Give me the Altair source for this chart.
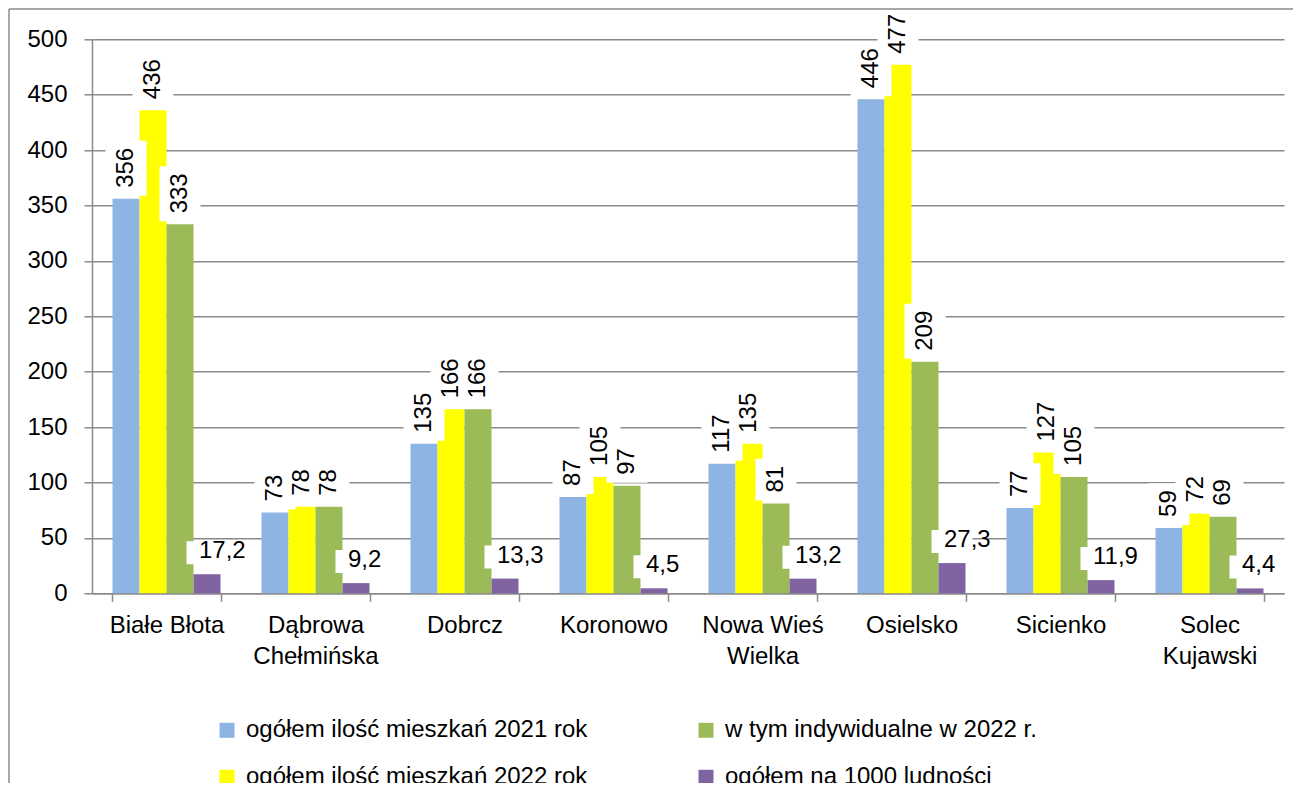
import altair as alt
import pandas as pd

categories = ["Białe Błota", "Dąbrowa Chełmińska", "Dobrcz", "Koronowo",
              "Nowa Wieś Wielka", "Osielsko", "Sicienko", "Solec Kujawski"]
series = ["ogółem ilość mieszkań 2021 rok", "ogółem ilość mieszkań 2022 rok",
          "w tym indywidualne w 2022 r.", "ogółem na 1000 ludności"]
v2021 = [356, 73, 135, 87, 117, 446, 77, 59]
v2022 = [436, 78, 166, 105, 135, 477, 127, 72]
v_indyw = [333, 78, 166, 97, 81, 209, 105, 69]
v_1000 = [17.2, 9.2, 13.3, 4.5, 13.2, 27.3, 11.9, 4.4]
colors = ["#8EB4E3", "#FFFF00", "#9BBB59", "#8064A2"]
y_ticks = [0, 50, 100, 150, 200, 250, 300, 350, 400, 450, 500]

FONT = "Liberation Sans"
FS = 24
GRID = "#8a8a8a"
W, H = 1192, 554
PX = H / 500.0
GAP = 11
PAD = 7

rows = []
for si, (s, vals) in enumerate(zip(series, [v2021, v2022, v_indyw, v_1000])):
    for c, v in zip(categories, vals):
        if si < 3:
            lab = str(int(v))
            lo = v + (3 + PAD) / PX
            hi = v + (GAP + 13.35 * len(lab) + 7 - PAD) / PX
        else:
            lab = f"{v:.1f}".replace(".", ",")
            lo = v + (10 + PAD) / PX
            hi = v + (33 - PAD) / PX
        rows.append({"cat": c, "series": s, "value": float(v), "label": lab,
                     "lo": float(lo), "hi": float(hi), "kind": "rot" if si < 3 else "flat"})
df = pd.DataFrame(rows)
df_rot = df[df["kind"] == "rot"].reset_index(drop=True)
df_flat = df[df["kind"] == "flat"].reset_index(drop=True)

label_expr = ("!isString(datum.label) || datum.label == 'Białe Błota' || indexof(datum.label, ' ') < 0 "
              "? datum.label : [slice(datum.label, 0, lastindexof(datum.label, ' ')), "
              "slice(datum.label, lastindexof(datum.label, ' ') + 1)]")

x_scale = alt.Scale(domain=categories, paddingInner=0.275, paddingOuter=0.1375)
x_enc = alt.X("cat:N", scale=x_scale,
              axis=alt.Axis(title=None, labelAngle=0, labelFont=FONT, labelFontSize=FS,
                            labelColor="black", tickBand="extent", tickSize=8,
                            tickColor=GRID, tickWidth=1.5, domainColor=GRID, domainWidth=1.5,
                            labelPadding=12, labelLineHeight=31, grid=False,
                            labelExpr=label_expr))
xoff_enc = alt.XOffset("series:N", scale=alt.Scale(domain=series))
y_axis = alt.Axis(title=None, values=y_ticks, labelFont=FONT, labelFontSize=FS,
                  labelColor="black", tickSize=8, tickColor=GRID, tickWidth=1.5,
                  domainColor=GRID, domainWidth=1.5, gridColor=GRID, gridWidth=1.5,
                  labelPadding=17, grid=True)
y_scale = alt.Scale(domain=[0, 500], nice=False)

bars = alt.Chart(df).mark_bar().encode(
    x=x_enc,
    xOffset=xoff_enc,
    y=alt.Y("value:Q", scale=y_scale, axis=y_axis, stack=False),
    color=alt.Color("series:N",
                    scale=alt.Scale(domain=series, range=colors),
                    legend=alt.Legend(title=None, orient="none", legendX=123, legendY=679,
                                      columns=2, columnPadding=106, rowPadding=23,
                                      symbolType="square", symbolSize=225,
                                      symbolStrokeWidth=0, labelFont=FONT,
                                      labelFontSize=FS, labelColor="black",
                                      labelLimit=1000, labelOffset=7, padding=0)),
)

rot_boxes = alt.Chart(df_rot).mark_bar(
    color="white", stroke="white", strokeWidth=2 * PAD, strokeJoin="miter"
).encode(
    x=alt.X("cat:N"),
    xOffset=alt.XOffset("series:N"),
    y=alt.Y("lo:Q"),
    y2="hi:Q",
)

flat_boxes = alt.Chart(df_flat).mark_bar(
    color="white", stroke="white", strokeWidth=2 * PAD, strokeJoin="miter"
).encode(
    x=alt.X("cat:N"),
    xOffset=alt.XOffset("series:N"),
    y=alt.Y("lo:Q"),
    y2="hi:Q",
)

rot_text = alt.Chart(df_rot).mark_text(
    angle=270, align="left", baseline="middle", dx=GAP, font=FONT, fontSize=FS, color="black"
).encode(
    x=alt.X("cat:N"),
    xOffset=alt.XOffset("series:N"),
    y=alt.Y("value:Q"),
    text="label:N",
)

flat_text = alt.Chart(df_flat).mark_text(
    align="left", baseline="alphabetic", dx=-8, dy=-16, font=FONT, fontSize=FS, color="black"
).encode(
    x=alt.X("cat:N"),
    xOffset=alt.XOffset("series:N"),
    y=alt.Y("value:Q"),
    text="label:N",
)

frame_df = pd.DataFrame({"k": [0]})
frame_top = alt.Chart(frame_df).mark_rule(color=GRID, strokeWidth=1.5).encode(
    x=alt.value(-83), x2=alt.value(1300), y=alt.value(-30.3))
frame_left = alt.Chart(frame_df).mark_rule(color=GRID, strokeWidth=1.5).encode(
    x=alt.value(-83), y=alt.value(-30.3), y2=alt.value(900))

chart = alt.layer(bars, rot_boxes, flat_boxes, rot_text, flat_text, frame_top, frame_left).properties(
    width=W, height=H,
    autosize=alt.AutoSizeParams(type="none"),
    padding={"left": 84, "top": 31.3, "right": 9, "bottom": 190},
    background="white",
).configure_view(strokeWidth=0)

chart.save("out.html", embed_options={"renderer": "svg", "actions": False})
